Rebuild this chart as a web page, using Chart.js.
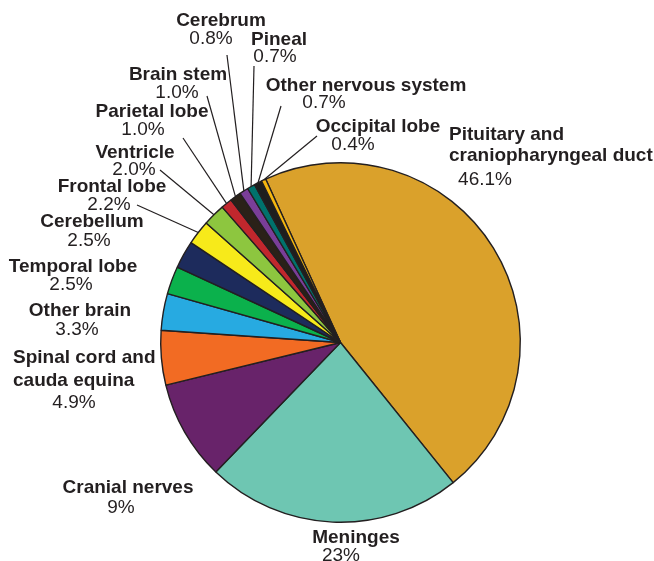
<!DOCTYPE html>
<html><head><meta charset="utf-8">
<script src="https://cdn.jsdelivr.net/npm/chart.js@4/dist/chart.umd.min.js"></script>
<style>html,body{margin:0;padding:0;background:#fff;overflow:hidden}</style>
</head><body>
<canvas id="c" width="654" height="561" style="display:block;width:654px;height:561px"></canvas>
<script>
const categories = ["Pituitary and craniopharyngeal duct","Meninges","Cranial nerves","Spinal cord and cauda equina","Other brain","Temporal lobe","Cerebellum","Frontal lobe","Ventricle","Parietal lobe","Brain stem","Cerebrum","Pineal","Other nervous system","Occipital lobe"];
const values = [46.1, 23, 9, 4.9, 3.3, 2.5, 2.5, 2.2, 2.0, 1.0, 1.0, 0.8, 0.7, 0.7, 0.4];
const valueLabels = ["46.1%","23%","9%","4.9%","3.3%","2.5%","2.5%","2.2%","2.0%","1.0%","1.0%","0.8%","0.7%","0.7%","0.4%"];

const colors = ["#DAA12B","#6EC6B2","#68236A","#F26B23","#27AAE1","#0BB14C","#1D2B5C","#F7EA1A","#8DC63F","#C1272D","#2A2118","#7A3E98","#00726C","#1E1E1E","#F5B70F"];

// label layout: name line(s) and percentage position, optional leader line start
const labelLayout = [
  {lines:["Pituitary and","craniopharyngeal duct"], align:"left", x:449, ys:[135,156], px:485, py:180},
  {lines:["Meninges"], align:"center", x:356, ys:[538], px:341, py:556},
  {lines:["Cranial nerves"], align:"center", x:128, ys:[488], px:121, py:508},
  {lines:["Spinal cord and","cauda equina"], align:"left", x:13, ys:[358,381], px:74, py:403},
  {lines:["Other brain"], align:"center", x:80, ys:[311], px:77, py:330},
  {lines:["Temporal lobe"], align:"center", x:73, ys:[267], px:71, py:285},
  {lines:["Cerebellum"], align:"center", x:92, ys:[222], px:89, py:241},
  {lines:["Frontal lobe"], align:"center", x:112, ys:[187], px:109, py:205, lx:137, ly:205},
  {lines:["Ventricle"], align:"center", x:135, ys:[153], px:134, py:170, lx:160, ly:170},
  {lines:["Parietal lobe"], align:"center", x:152, ys:[112], px:143, py:130, lx:183, ly:138},
  {lines:["Brain stem"], align:"center", x:178, ys:[75], px:177, py:93, lx:207, ly:96},
  {lines:["Cerebrum"], align:"center", x:221, ys:[21], px:211, py:39, lx:227, ly:55},
  {lines:["Pineal"], align:"center", x:279, ys:[40], px:275, py:57, lx:254, ly:66},
  {lines:["Other nervous system"], align:"center", x:366, ys:[86], px:324, py:103, lx:281, ly:106},
  {lines:["Occipital lobe"], align:"center", x:378, ys:[127], px:353, py:145, lx:317, ly:136}
];

const textColor = "#231F20";
const FONT_FAMILY = "'Liberation Sans', Arial, Helvetica, sans-serif";

const labelPlugin = {
  id: 'labels',
  afterDatasetsDraw(chart) {
    const ctx = chart.ctx;
    const meta = chart.getDatasetMeta(0);
    ctx.save();
    ctx.strokeStyle = textColor;
    ctx.lineWidth = 1.2;
    meta.data.forEach((arc, i) => {
      const L = labelLayout[i];
      if (L.lx === undefined) return;
      const p = arc.getProps(['x','y','startAngle','endAngle','outerRadius'], true);
      const mid = (p.startAngle + p.endAngle) / 2;
      const ex = p.x + Math.cos(mid) * p.outerRadius;
      const ey = p.y + Math.sin(mid) * p.outerRadius;
      ctx.beginPath();
      ctx.moveTo(L.lx, L.ly);
      ctx.lineTo(ex, ey);
      ctx.stroke();
    });
    ctx.fillStyle = textColor;
    ctx.textBaseline = 'middle';
    labelLayout.forEach((L, i) => {
      ctx.font = "bold 19px " + FONT_FAMILY;
      ctx.textAlign = L.align;
      L.lines.forEach((t, k) => ctx.fillText(t, L.x, L.ys[k]));
      ctx.font = "19px " + FONT_FAMILY;
      ctx.textAlign = 'center';
      ctx.fillText(valueLabels[i], L.px, L.py);
    });
    ctx.restore();
  }
};

new Chart(document.getElementById('c'), {
  type: 'pie',
  data: {
    labels: categories,
    datasets: [{
      data: values,
      backgroundColor: colors,
      borderColor: "#231F20",
      borderWidth: 1.4,
      hoverOffset: 0
    }]
  },
  options: {
    responsive: false,
    animation: false,
    rotation: -24.6,
    layout: { padding: { left: 160, right: 133, top: 162, bottom: 38 } },
    plugins: { legend: { display: false }, tooltip: { enabled: false } }
  },
  plugins: [labelPlugin]
});
</script>
</body></html>
